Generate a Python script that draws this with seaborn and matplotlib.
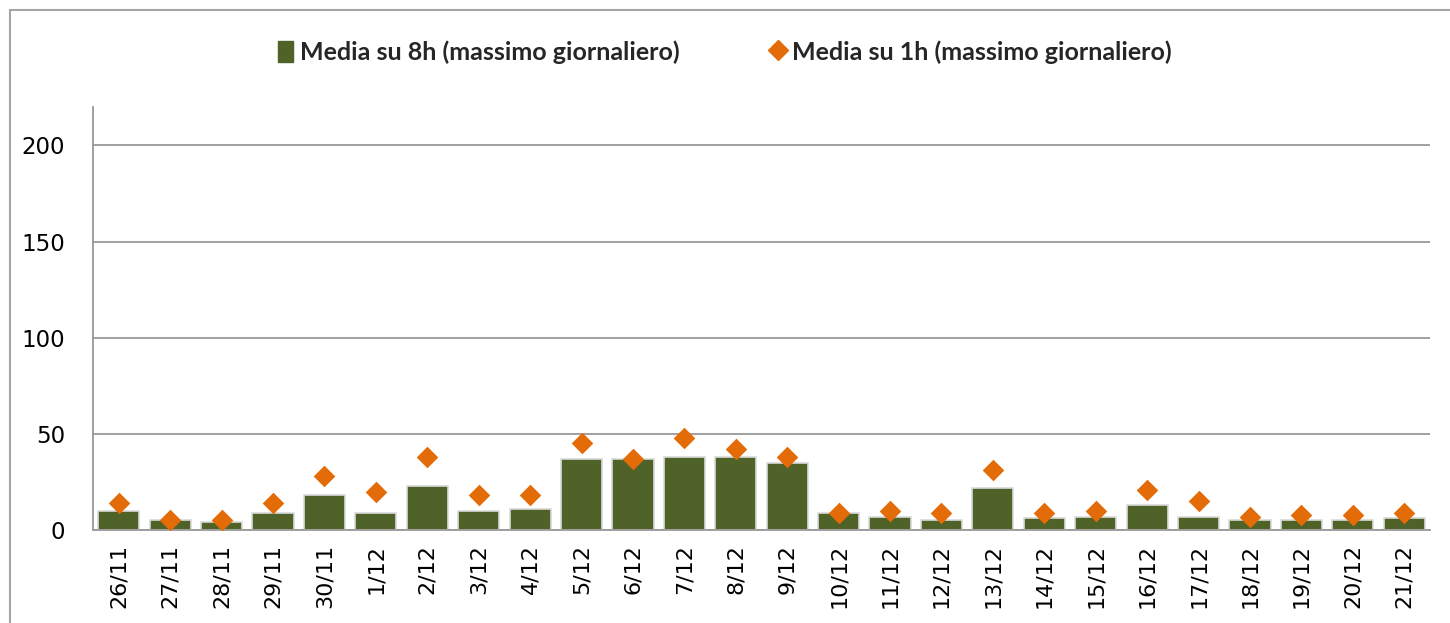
import matplotlib
matplotlib.use("Agg")
import matplotlib.pyplot as plt
import matplotlib.patches as mpatches
import seaborn as sns
import pandas as pd
import numpy as np

dates = ["26/11", "27/11", "28/11", "29/11", "30/11", "1/12", "2/12", "3/12", "4/12",
         "5/12", "6/12", "7/12", "8/12", "9/12", "10/12", "11/12", "12/12", "13/12",
         "14/12", "15/12", "16/12", "17/12", "18/12", "19/12", "20/12", "21/12"]
media_8h = [10, 5, 4, 9, 18, 9, 23, 10, 11, 37, 37, 38, 38, 35, 9, 7, 5, 22,
            6, 7, 13, 7, 5, 5, 5, 6]
media_1h = [14, 5, 5, 14, 28, 20, 38, 18, 18, 45, 37, 48, 42, 38, 9, 10, 9, 31,
            9, 10, 21, 15, 7, 8, 8, 9]
label_8h = "Media su 8h (massimo giornaliero)"
label_1h = "Media su 1h (massimo giornaliero)"
yticks = [0, 50, 100, 150, 200]

df = pd.DataFrame({"data": dates, "m8": media_8h, "m1": media_1h})

sns.set_style("white")
plt.rcParams["font.family"] = ["DejaVu Sans"]

fig = plt.figure(figsize=(14.5, 6.23), dpi=100)
ax = fig.add_axes([93/1450, 1-530/623, (1430-93)/1450, (530-107)/623])

bar_color = "#4F6228"
dia_color = "#E36C09"

sns.barplot(data=df, x="data", y="m8", order=dates, color=bar_color, width=0.8,
            edgecolor="#D9D9D9", linewidth=1.2, saturation=1, ax=ax)
sns.stripplot(data=df, x="data", y="m1", order=dates, jitter=False, marker="D",
              color=dia_color, size=11, linewidth=0, ax=ax, zorder=5, legend=False)
if ax.get_legend() is not None:
    ax.get_legend().remove()

ax.set_ylim(0, 220)
ax.set_xlim(-0.5, len(dates) - 0.5)
ax.set_yticks(yticks)
ax.set_yticklabels([str(v) for v in yticks], fontsize=16.5, color="black")
ax.set_xlabel("")
ax.set_ylabel("")
ax.grid(axis="y", color="#999999", linewidth=1.3)
ax.set_axisbelow(True)

ax.tick_params(axis="x", which="major", length=0, labelrotation=90, labelsize=16,
               labelcolor="black", pad=10)
ax.set_xticks(np.arange(-0.5, len(dates), 1.0), minor=True)
ax.tick_params(axis="x", which="minor", length=8, color="#999999", width=1.3)
ax.tick_params(axis="y", which="major", length=8, color="#999999", width=1.3, pad=12)

for s in ["top", "right"]:
    ax.spines[s].set_visible(False)
for s in ["left", "bottom"]:
    ax.spines[s].set_color("#999999")
    ax.spines[s].set_linewidth(1.3)

handles = [mpatches.Patch(facecolor=bar_color, edgecolor=bar_color),
           plt.Line2D([], [], marker="D", color=dia_color, linestyle="none", markersize=10)]
fig.legend(handles, [label_8h, label_1h], loc="center", bbox_to_anchor=(0.5, 1-52/623),
           ncol=2, frameon=False, prop={"family": "Lato", "weight": "bold", "size": 18},
           handlelength=0.6, handleheight=0.9, handletextpad=0.3, columnspacing=3.6)

border = mpatches.Rectangle((10/1450, -0.1), 1.2, 1-10/623 + 0.1, transform=fig.transFigure,
                            fill=False, edgecolor="#A6A6A6", linewidth=1.5)
fig.patches.append(border)

fig.savefig("out.png", dpi=100)
